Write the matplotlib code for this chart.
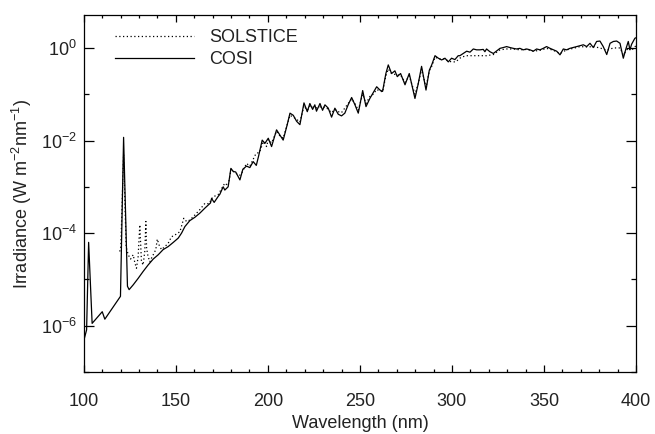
import numpy as np
import matplotlib
matplotlib.use('Agg')
import matplotlib.pyplot as plt
from matplotlib.ticker import MultipleLocator, FixedLocator, NullFormatter

plt.rcParams['font.family'] = ['Liberation Sans', 'DejaVu Sans']
plt.rcParams['mathtext.default'] = 'regular'

# COSI spectrum (nm, W m-2 nm-1)
cosi_wl = [100.0, 101.5, 102.6, 104.5, 110.0, 111.4, 119.9, 121.6, 123.7, 124.6,
           126.8, 129.5, 132.2, 134.9, 137.7, 140.4, 143.1, 145.8, 148.6, 151.3,
           153.1, 154.9, 157.6, 160.3, 163.0, 165.8, 168.8, 169.4, 170.8, 173.0,
           173.9, 175.7, 176.6, 178.4, 179.9, 181.2, 182.5, 184.8, 186.4, 188.4,
           190.2, 192.0, 193.7, 195.0, 196.9, 198.4, 200.2, 202.0, 204.7, 206.5,
           208.3, 210.5, 212.0, 213.8, 215.6, 217.4, 219.6, 221.4, 222.8, 224.3,
           225.5, 226.4, 228.3, 229.7, 231.0, 232.8, 234.6, 236.4, 238.2, 240.0,
           241.8, 243.6, 245.5, 247.3, 249.1, 251.5, 253.3, 255.4, 257.2, 259.1,
           260.9, 262.3, 264.1, 265.4, 267.2, 269.0, 270.3, 272.1, 274.5, 276.8,
           279.9, 281.7, 283.5, 285.9, 287.7, 289.0, 290.8, 292.6, 294.4, 296.2,
           298.0, 299.8, 301.6, 303.4, 304.3, 306.1, 308.0, 309.8, 311.6, 313.4,
           315.2, 317.0, 317.9, 318.8, 320.6, 322.5, 326.1, 327.9, 329.7, 331.5,
           333.3, 335.1, 336.9, 338.8, 340.6, 342.4, 344.2, 346.0, 347.8, 349.6,
           351.4, 353.3, 355.1, 356.9, 358.7, 360.5, 362.3, 364.1, 365.9, 367.8,
           369.6, 371.4, 373.2, 375.0, 376.8, 378.6, 380.4, 382.2, 384.1, 385.9,
           387.7, 389.5, 391.3, 393.1, 394.6, 395.8, 396.7, 397.6, 399.4, 400.0]
cosi_irr = [4.8e-7, 8.1e-7, 6.3e-5, 1.12e-6, 2.0e-6, 1.38e-6, 4.3e-6, 1.17e-2, 7.1e-6, 6.0e-6,
            7.6e-6, 1.05e-5, 1.48e-5, 2.04e-5, 2.75e-5, 3.4e-5, 4.4e-5, 5.1e-5, 6.3e-5, 7.8e-5,
            1.0e-4, 1.38e-4, 1.86e-4, 2.19e-4, 2.69e-4, 3.47e-4, 4.47e-4, 5.6e-4, 4.6e-4, 6.2e-4,
            6.9e-4, 1.0e-3, 8.5e-4, 1.0e-3, 2.5e-3, 2.14e-3, 2.09e-3, 1.41e-3, 2.4e-3, 2.8e-3,
            2.6e-3, 3.5e-3, 2.9e-3, 4.7e-3, 1.02e-2, 8.7e-3, 1.12e-2, 7.4e-3, 1.7e-2, 1.32e-2,
            1.02e-2, 2.2e-2, 3.9e-2, 3.5e-2, 2.6e-2, 2.2e-2, 6.5e-2, 4.2e-2, 6.3e-2, 4.7e-2,
            5.9e-2, 4.3e-2, 6.3e-2, 4.5e-2, 5.9e-2, 5.0e-2, 3.2e-2, 5.0e-2, 3.7e-2, 3.4e-2,
            3.9e-2, 5.9e-2, 8.5e-2, 5.9e-2, 3.9e-2, 0.12, 5.4e-2, 8.1e-2, 0.107, 0.145,
            0.123, 0.115, 0.28, 0.43, 0.28, 0.32, 0.24, 0.28, 0.16, 0.28,
            0.081, 0.17, 0.40, 0.123, 0.33, 0.43, 0.68, 0.60, 0.55, 0.60,
            0.50, 0.60, 0.56, 0.68, 0.68, 0.76, 0.85, 0.81, 0.95, 0.91,
            0.91, 0.93, 0.83, 0.95, 0.83, 0.76, 0.98, 1.02, 1.07, 1.02,
            0.98, 0.95, 0.98, 0.91, 0.95, 0.91, 0.85, 0.95, 0.91, 0.98,
            1.07, 0.98, 0.91, 0.85, 0.71, 0.95, 0.91, 0.98, 1.02, 1.07,
            1.12, 1.17, 1.07, 1.26, 1.02, 1.38, 1.41, 1.07, 0.72, 1.26,
            1.38, 1.41, 1.26, 0.60, 0.98, 1.38, 0.91, 1.20, 1.62, 1.66]

# SOLSTICE spectrum
sol_wl = [119.5, 120.1, 121.6, 123.0, 124.1, 125.4, 126.8, 127.7, 128.6, 129.5,
          130.4, 131.3, 132.2, 133.1, 133.7, 134.1, 134.9, 135.9, 136.8, 137.7,
          139.1, 139.9, 140.9, 142.2, 144.0, 145.8, 147.6, 149.5, 152.2, 154.3,
          155.8, 157.6, 160.3, 163.0, 165.8, 168.0, 170.0, 173.0, 176.6, 178.4,
          180.0, 182.0, 184.8, 185.7, 188.4, 190.2, 193.5, 195.5, 197.5, 199.3,
          200.2, 202.0, 204.7, 206.5, 208.3, 210.5, 212.0, 215.0, 217.4, 219.6,
          221.4, 223.0, 226.0, 229.0, 232.0, 234.6, 236.4, 238.2, 240.0, 243.6,
          245.5, 247.3, 249.1, 251.5, 253.3, 255.4, 257.2, 259.1, 262.3, 264.1,
          265.4, 267.2, 270.3, 272.1, 274.5, 276.8, 279.9, 281.7, 283.5, 285.9,
          287.7, 289.0, 290.8, 293.0, 296.2, 298.0, 300.0, 302.0, 305.0, 308.0,
          311.6, 315.2, 318.8, 322.5, 326.1, 329.7, 333.3, 336.9, 340.6, 344.2,
          347.8, 351.4, 355.1, 358.7, 362.3, 365.9, 369.6, 373.2, 376.8, 380.4,
          384.1, 387.7, 391.3, 393.1, 395.8, 397.6, 400.0]
sol_irr = [4.0e-5, 5.1e-5, 5.0e-3, 5.0e-5, 3.4e-5, 2.75e-5, 3.4e-5, 2.3e-5, 1.74e-5, 3.1e-5,
           1.51e-4, 2.45e-5, 2.04e-5, 4.0e-5, 1.78e-4, 4.7e-5, 3.1e-5, 2.4e-5, 2.9e-5, 3.4e-5,
           4.4e-5, 7.4e-5, 5.5e-5, 4.4e-5, 5.1e-5, 6.0e-5, 8.3e-5, 9.1e-5, 1.07e-4, 2.09e-4,
           1.78e-4, 1.91e-4, 2.45e-4, 3.2e-4, 4.4e-4, 4.3e-4, 6.0e-4, 6.8e-4, 1.2e-3, 1.05e-3,
           2.4e-3, 2.0e-3, 1.78e-3, 1.95e-3, 3.2e-3, 2.8e-3, 5.2e-3, 5.6e-3, 9.5e-3, 7.4e-3,
           1.05e-2, 8.9e-3, 1.58e-2, 1.26e-2, 1.12e-2, 2.2e-2, 3.5e-2, 3.0e-2, 2.5e-2, 5.6e-2,
           4.5e-2, 5.6e-2, 5.0e-2, 5.4e-2, 5.0e-2, 4.0e-2, 4.7e-2, 4.2e-2, 4.0e-2, 6.3e-2,
           7.9e-2, 6.3e-2, 4.5e-2, 0.10, 0.063, 0.089, 0.10, 0.126, 0.112, 0.25,
           0.35, 0.28, 0.26, 0.26, 0.18, 0.25, 0.10, 0.17, 0.35, 0.14,
           0.32, 0.40, 0.63, 0.58, 0.58, 0.52, 0.50, 0.50, 0.63, 0.68,
           0.68, 0.68, 0.68, 0.72, 0.91, 0.95, 0.95, 0.91, 0.93, 0.85,
           0.89, 0.98, 0.89, 0.76, 0.91, 0.98, 1.07, 1.05, 1.07, 1.00,
           0.89, 1.00, 1.00, 0.71, 1.00, 0.89, 1.12]

major_decades = [1e0, 1e-2, 1e-4, 1e-6]
major_labels = ['10$^{0}$', '10$^{-2}$', '10$^{-4}$', '10$^{-6}$']
minor_decades = [1e-1, 1e-3, 1e-5, 1e-7]

fig = plt.figure(figsize=(6.55, 4.34), dpi=100)
ax = fig.add_axes([0.128, 0.143, 0.843, 0.822])

ax.plot(sol_wl, sol_irr, color='black', lw=0.9, linestyle=(0, (1, 2)), label='SOLSTICE')
ax.plot(cosi_wl, cosi_irr, color='black', lw=0.9, label='COSI')

ax.set_yscale('log')
ax.set_xlim(100, 400)
ax.set_ylim(1e-7, 5.1)

ax.xaxis.set_major_locator(MultipleLocator(50))
ax.xaxis.set_minor_locator(MultipleLocator(10))
ax.yaxis.set_major_locator(FixedLocator(major_decades))
ax.set_yticklabels(major_labels)
ax.yaxis.set_minor_locator(FixedLocator(minor_decades))
ax.yaxis.set_minor_formatter(NullFormatter())

ax.tick_params(which='both', direction='in', top=True, right=True, colors='black',
               labelcolor='#222222', labelsize=13, width=0.9)
# IDL-style tick lengths: y ticks scale with plot width, x ticks with height
ax.tick_params(axis='x', which='major', length=4.7, pad=15)
ax.tick_params(axis='x', which='minor', length=2.4)
ax.tick_params(axis='y', which='major', length=7.2, pad=5)
ax.tick_params(axis='y', which='minor', length=3.6)
for s in ax.spines.values():
    s.set_linewidth(0.9)

ax.set_xlabel('Wavelength (nm)', fontsize=13, color='#222222', labelpad=4)
ax.set_ylabel('Irradiance (W m$^{-2}$nm$^{-1}$)', fontsize=13, color='#222222', labelpad=5)

ax.legend(loc='upper left', bbox_to_anchor=(0.056, 0.96), frameon=False,
          handlelength=4.4, handletextpad=0.85, fontsize=13, labelspacing=0.25,
          borderpad=0, borderaxespad=0, labelcolor='#222222')

plt.savefig('out.png', dpi=100)
